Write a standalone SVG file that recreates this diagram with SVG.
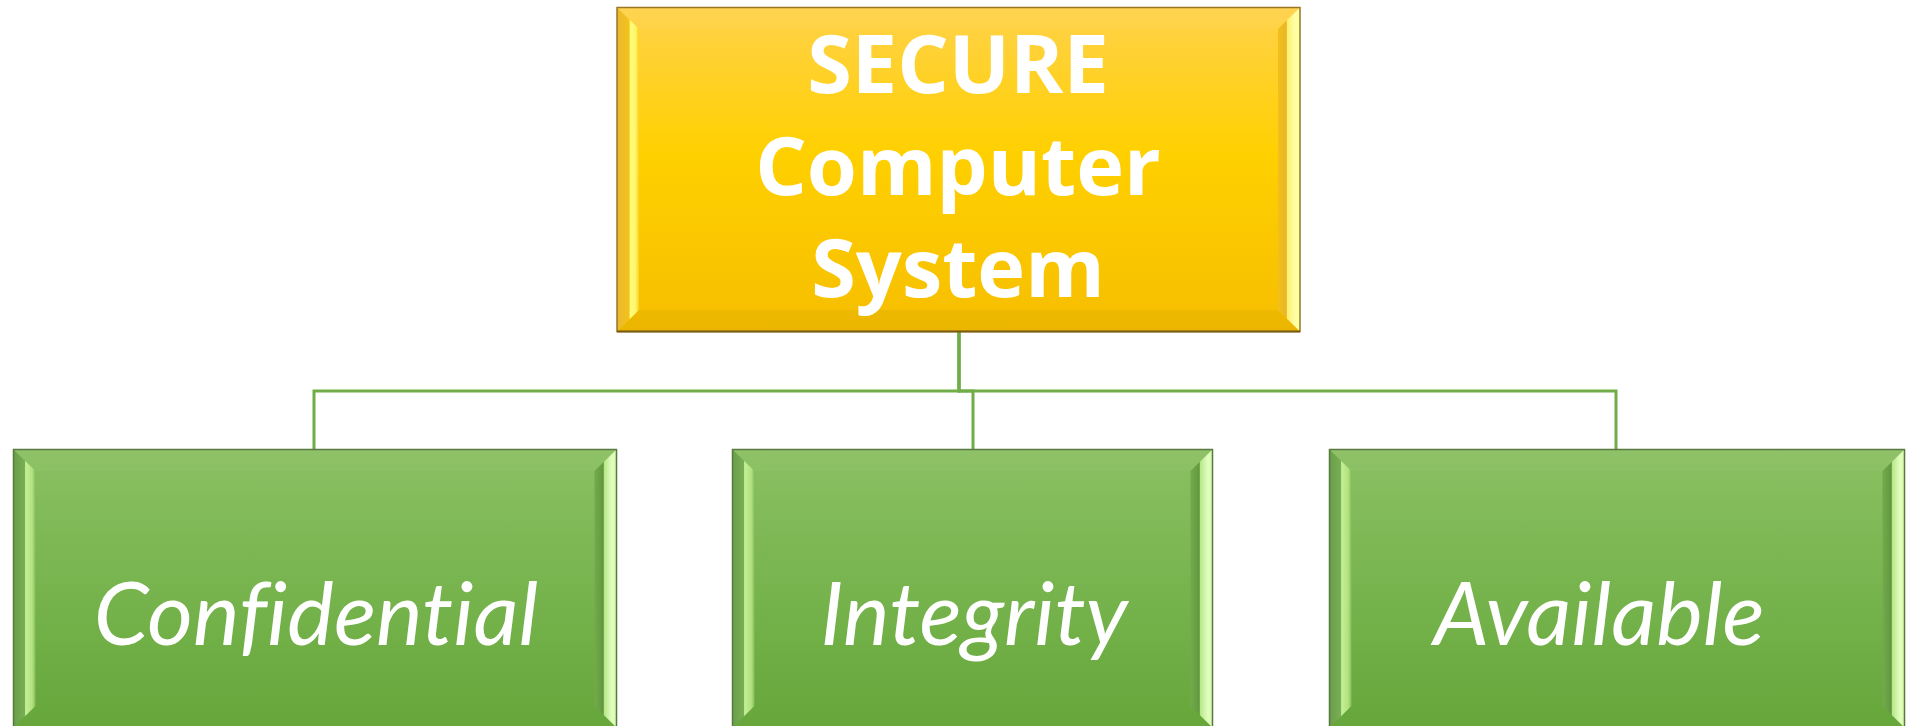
<svg xmlns="http://www.w3.org/2000/svg" width="1906" height="726" viewBox="0 0 1906 726">
  <style>
    .title { font-family: "Open Sans", "Liberation Sans", sans-serif; font-weight: 700; font-size: 81px; fill: #ffffff; text-anchor: middle; }
    .label { font-family: Lato, "Open Sans", "Liberation Sans", sans-serif; font-style: italic; font-size: 88px; fill: #ffffff; text-anchor: middle; font-variant-ligatures: none; font-feature-settings: "liga" 0; }
    .link { fill: none; stroke: #70ad47; stroke-width: 3; }
    .gold-edge { stroke: #9a7624; stroke-width: 1.5; }
    .green-edge { stroke: #587a42; stroke-width: 1.5; }
    .top-bevel { fill: #ffffff; fill-opacity: 0.04; }
    .bottom-bevel { fill: #000000; fill-opacity: 0.04; }
  </style>
  <defs>
    <linearGradient id="goldFill" x1="0" y1="0" x2="0" y2="1">
      <stop offset="0" stop-color="#ffd24a"/>
      <stop offset="0.45" stop-color="#ffd000"/>
      <stop offset="1" stop-color="#f6be00"/>
    </linearGradient>
    <linearGradient id="greenFill" x1="0" y1="0" x2="0" y2="1">
      <stop offset="0" stop-color="#8bc062"/>
      <stop offset="0.5" stop-color="#77b44e"/>
      <stop offset="1" stop-color="#66a63a"/>
    </linearGradient>
    <!-- side bevels: muted outer half, bright inner strip -->
    <linearGradient id="goldLeft" x1="0" y1="0" x2="1" y2="0">
      <stop offset="0" stop-color="#e9b830"/>
      <stop offset="0.55" stop-color="#f3c21c"/>
      <stop offset="0.6" stop-color="#ffff7a"/>
      <stop offset="0.85" stop-color="#fff46a"/>
      <stop offset="1" stop-color="#f8d020"/>
    </linearGradient>
    <linearGradient id="goldRight" x1="0" y1="0" x2="1" y2="0">
      <stop offset="0" stop-color="#f3c01a"/>
      <stop offset="0.38" stop-color="#e8b628"/>
      <stop offset="0.42" stop-color="#fff070"/>
      <stop offset="0.8" stop-color="#ffffa8"/>
      <stop offset="1" stop-color="#ffff9a"/>
    </linearGradient>
    <linearGradient id="greenLeft" x1="0" y1="0" x2="1" y2="0">
      <stop offset="0" stop-color="#6a9e4a"/>
      <stop offset="0.5" stop-color="#78ae54"/>
      <stop offset="0.55" stop-color="#c4f094"/>
      <stop offset="0.85" stop-color="#b2e280"/>
      <stop offset="1" stop-color="#86bc5c"/>
    </linearGradient>
    <linearGradient id="greenRight" x1="0" y1="0" x2="1" y2="0">
      <stop offset="0" stop-color="#72aa4c"/>
      <stop offset="0.4" stop-color="#62993f"/>
      <stop offset="0.45" stop-color="#b8e88a"/>
      <stop offset="0.8" stop-color="#e2ffc0"/>
      <stop offset="1" stop-color="#d2f8a8"/>
    </linearGradient>
  </defs>

  <g id="connectors">
    <path class="link" d="M959,332 V391 H314 V449"/>
    <path class="link" d="M959,332 V391 H973 V449"/>
    <path class="link" d="M959,332 V391 H1616 V449"/>
  </g>

  <g id="node-secure">
    <rect x="617" y="7.5" width="683" height="324" fill="url(#goldFill)"/>
    <polygon class="top-bevel" points="617,7.5 1300,7.5 1278,29 639,29"/>
    <polygon class="bottom-bevel" points="617,331.5 1300,331.5 1278,310 639,310"/>
    <polygon points="617,7.5 639,29 639,310 617,331.5" fill="url(#goldLeft)"/>
    <polygon points="1300,7.5 1278,29 1278,310 1300,331.5" fill="url(#goldRight)"/>
    <rect class="gold-edge" x="617" y="7.5" width="683" height="324" fill="none"/>
    <line x1="617" y1="331.5" x2="1300" y2="331.5" stroke="#7a5c10" stroke-width="2"/>
    <text class="title" x="958" y="93">SECURE</text>
    <text class="title" x="958" y="195">Computer</text>
    <text class="title" x="958" y="297">System</text>
  </g>

  <g id="node-confidential">
    <rect x="13.5" y="449.5" width="603" height="278" fill="url(#greenFill)"/>
    <polygon class="top-bevel" points="13.5,449.5 616.5,449.5 594.5,471 35.5,471"/>
    <polygon points="13.5,449.5 35.5,471 35.5,706 13.5,727.5" fill="url(#greenLeft)"/>
    <polygon points="616.5,449.5 594.5,471 594.5,706 616.5,727.5" fill="url(#greenRight)"/>
    <rect class="green-edge" x="13.5" y="449.5" width="603" height="278" fill="none"/>
    <text class="label" x="316" y="645">Confidential</text>
  </g>

  <g id="node-integrity">
    <rect x="732.5" y="449.5" width="480" height="278" fill="url(#greenFill)"/>
    <polygon class="top-bevel" points="732.5,449.5 1212.5,449.5 1190.5,471 754.5,471"/>
    <polygon points="732.5,449.5 754.5,471 754.5,706 732.5,727.5" fill="url(#greenLeft)"/>
    <polygon points="1212.5,449.5 1190.5,471 1190.5,706 1212.5,727.5" fill="url(#greenRight)"/>
    <rect class="green-edge" x="732.5" y="449.5" width="480" height="278" fill="none"/>
    <text class="label" x="974" y="645">Integrity</text>
  </g>

  <g id="node-available">
    <rect x="1329.5" y="449.5" width="575" height="278" fill="url(#greenFill)"/>
    <polygon class="top-bevel" points="1329.5,449.5 1904.5,449.5 1882.5,471 1351.5,471"/>
    <polygon points="1329.5,449.5 1351.5,471 1351.5,706 1329.5,727.5" fill="url(#greenLeft)"/>
    <polygon points="1904.5,449.5 1882.5,471 1882.5,706 1904.5,727.5" fill="url(#greenRight)"/>
    <rect class="green-edge" x="1329.5" y="449.5" width="575" height="278" fill="none"/>
    <text class="label" x="1599" y="645">Available</text>
  </g>
</svg>
